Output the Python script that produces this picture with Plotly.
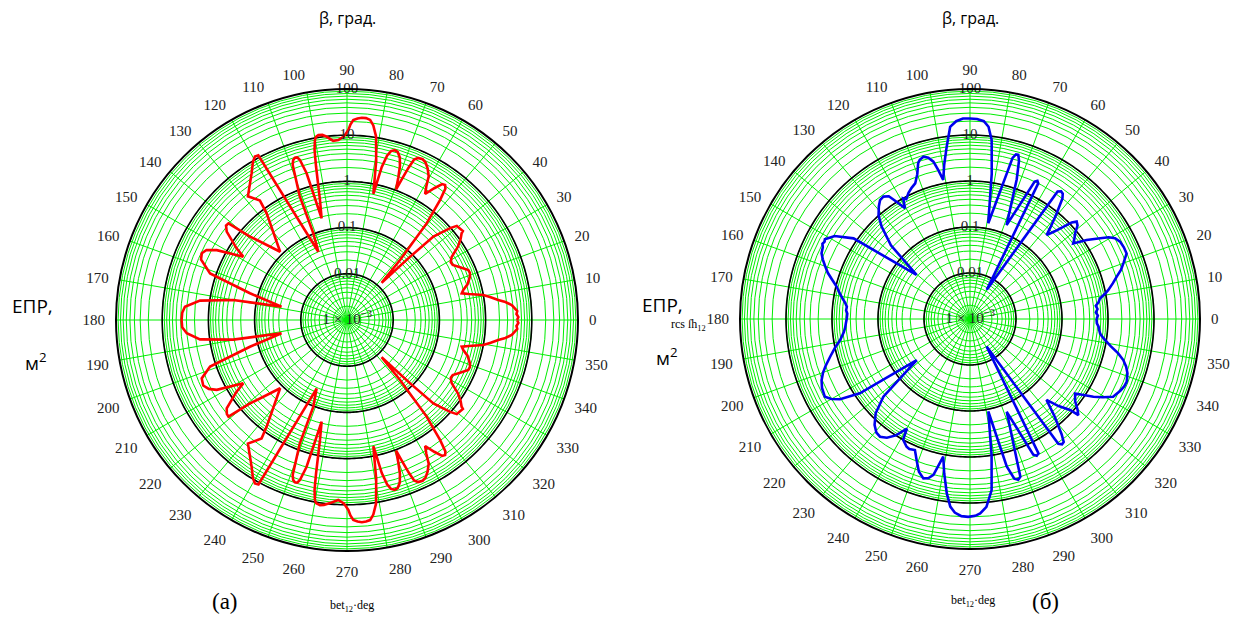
import plotly.graph_objects as go
import numpy as np

# ---------------- data ----------------
# chart (а): angle, deg  /  RCS, m^2
theta_a = [0, 1, 2, 3, 4.6, 5.2, 6.5, 7.5, 9, 10.4, 12, 13.1, 14.5, 16.5, 19.4, 21, 22.4, 25, 27.5, 29.1,
           31, 33.5, 35.5, 37.1, 37.5, 39.5, 40.6, 41.7, 44, 45.1, 47.1, 48.5, 50.5, 52.2, 53.2, 54, 55,
           56.5, 58.2, 59.3, 60.4, 62, 63.5, 64.8, 66.3, 67.3, 68, 68.7, 69.4, 70.2, 71, 72, 73.2, 74.3,
           75.4, 76.3, 77.2, 78.2, 79.6, 81, 82.3, 83.4, 84.6, 85.8, 87, 88.2, 89, 89.6, 91, 92.8, 94.4,
           96.3, 97.6, 98.8, 99.6, 100.1, 100.8, 101.4, 102.7, 104, 105.4, 106.4, 107, 107.8, 108.6, 109.3,
           110.9, 111.2, 112.8, 118.3, 119.4, 120.8, 123, 128.7, 126.1, 127, 134.4, 139.3, 140.8, 142,
           143.7, 147, 148.6, 151.8, 153.5, 155.3, 157.5, 161.2, 164.6, 168.5, 170, 172.5, 175.3, 177.5, 180,
           182.5, 184.7, 187.5, 189.8, 191.5, 195.4, 198.8, 201.9, 204.5, 206.5, 208.2, 211.4, 213, 216.3,
           218, 219.2, 220.7, 225.6, 233, 234.2, 231.3, 237, 239.2, 240.6, 241.7, 246.1, 248.8, 249.1,
           250.7, 251.4, 252.2, 253, 253.6, 254.6, 256, 257.3, 258.6, 259.2, 259.9, 260.4, 261.7, 262.9,
           264.7, 267.2, 269, 270.4, 271, 271.8, 273, 274.2, 275.4, 276.6, 277.7, 279, 280.4, 281.8, 282.8,
           283.7, 284.6, 285.7, 286.8, 288, 289, 289.8, 290.6, 291.3, 292, 292.7, 293.7, 295.2, 296.5, 298,
           299.6, 300.7, 301.8, 303.5, 305, 306, 306.8, 307.8, 309.5, 311.5, 312.9, 314.9, 316, 318.3,
           319.4, 320.5, 322.5, 322.9, 324.5, 326.5, 329, 330.9, 332.5, 335, 337.6, 339, 340.6, 343.5,
           345.5, 346.9, 348, 349.6, 351, 352.5, 353.5, 354.8, 355.4, 357, 358, 359, 360]
rcs_a = [4.79, 5.13, 4.68, 4.90, 4.07, 3.80, 2.82, 2.00, 1.41, 1.00, 0.50, 0.355, 0.398, 0.525, 0.661,
         0.708, 0.692, 0.501, 0.380, 0.372, 0.437, 0.759, 1.05, 1.29, 1.45, 1.38, 1.35, 0.977, 0.398, 0.085,
         0.0126, 0.054, 0.513, 1.95, 3.6, 4.1, 3.9, 2.63, 1.62, 2.3, 3.80, 5.2, 6.46, 7.0, 6.76, 5.8, 3.6,
         1.9, 1.05, 1.9, 3.3, 5.0, 6.3, 6.6, 6.0, 4.6, 2.5, 0.617, 3.16, 10.5, 17.8, 22.9, 24.5, 24.5,
         23.4, 21.4, 17.0, 12.9, 9.33, 7.94, 7.76, 9.77, 11.0, 11.2, 10.5, 9.12, 5.6, 2.45, 0.457, 0.186,
         2.00, 4.07, 4.8, 4.9, 4.5, 3.6, 0.741, 0.105, 0.040, 11.2, 11.5, 9.5, 6.17, 2.69, 1.58, 0.776,
         0.117, 0.589, 2.04, 2.1, 1.70, 0.708, 0.427, 1.58, 2.5, 2.88, 2.63, 1.35, 0.151, 0.028, 0.316,
         1.62, 3.31, 3.72, 3.80,
         3.72, 3.02, 1.62, 0.316, 0.028, 0.151, 1.35, 2.45, 2.63, 2.2, 1.58, 0.427, 0.708, 1.70, 2.00,
         2.04, 0.589, 0.117, 0.776, 1.45, 2.69, 6.17, 9.5, 11.5, 11.0, 0.042, 0.105, 0.741, 3.6, 4.5, 4.9,
         4.8, 4.07, 2.00, 0.186, 0.457, 2.45, 5.6, 9.12, 10.5, 11.2, 10.8, 9.55, 7.94, 9.33, 12.9, 17.0,
         21.4, 23.4, 24.5, 24.0, 22.9, 17.8, 10.5, 3.16, 0.617, 2.5, 4.6, 6.0, 6.6, 6.3, 5.0, 3.3, 1.9,
         1.05, 1.9, 3.6, 5.8, 6.76, 7.0, 6.46, 5.2, 3.80, 2.3, 1.62, 2.63, 3.9, 4.1, 3.6, 1.95, 0.513,
         0.054, 0.0126, 0.085, 0.398, 0.977, 1.35, 1.38, 1.45, 1.29, 1.05, 0.759, 0.437, 0.372, 0.380,
         0.501, 0.692, 0.708, 0.661, 0.525, 0.398, 0.355, 0.50, 1.00, 1.41, 2.00, 2.82, 3.80, 4.07, 4.90,
         4.68, 5.13, 4.79]

# chart (б): angle, deg  /  RCS, m^2
theta_b = [0, 1.5, 3, 4.5, 6, 7.5, 9, 10.5, 11.8, 14, 16.1, 18, 20, 22.7, 25, 27.3, 29.1, 30.5, 31.8, 34.1,
           36.2, 37.5, 39.2, 41, 42.4, 43.5, 44.2, 46, 47.6, 49, 50.5, 52.5, 53.5, 54.5, 55.5, 60.1, 63.3,
           64, 64.8, 68.7, 71.5, 72.8, 73.6, 74.4, 75.2, 79.2, 81.5, 83.1, 84.5, 86, 88, 90, 92, 94, 95.9,
           97.7, 99.5, 100.9, 102, 103.1, 104.5, 106, 107.5, 108.4, 110, 112, 114, 116, 118, 119, 120.4,
           122, 123.5, 125.3, 127.1, 129, 131.5, 133.7, 137, 140.5, 145.3, 148.5, 151.2, 152, 153, 154,
           156.1, 158, 160, 162, 164, 166.4, 168.5, 170.5, 172.5, 174.3, 176, 177.5, 180,
           182, 184, 186, 189.2, 192, 195.1, 198, 200, 202.4, 205, 208.2, 210, 211.7, 214, 217.6, 221.9, 225,
           228, 230.5, 232.6, 235, 237.5, 240.1, 241, 243.6, 245, 247.2, 249.5, 251.5, 253.7, 255.3, 256.8,
           259, 260.5, 262.4, 264, 265.5, 267.5, 269.5, 271.5, 273, 275, 277.2, 279, 281.2, 284, 285.5,
           286.7, 287.7, 291.6, 295, 296, 297, 301.1, 305.3, 306.3, 307.3, 308.5, 311, 313.4, 315.5, 317.7,
           318.4, 320, 322, 324.7, 326.5, 327.8, 329.5, 331.5, 334.5, 336.5, 338.2, 341, 343, 345, 347, 349,
           351.8, 353.5, 355, 356.6, 358, 360]
rcs_b = [0.562, 0.603, 0.550, 0.603, 0.562, 0.661, 0.724, 0.955, 1.17, 1.58, 2.09, 2.82, 3.55, 4.90, 4.90,
         4.68, 4.07, 3.16, 2.14, 1.15, 0.603, 0.724, 0.891, 1.25, 1.38, 1.12, 0.851, 0.447, 0.295, 0.5,
         0.891, 2.00, 2.45, 2.57, 2.3, 0.0054, 2.0, 2.2, 2.0, 0.155, 1.58, 4.0, 5.25, 5.2, 4.2, 0.132,
         1.58, 8.32, 15.8, 20.4, 22.4, 22.9, 22.9, 20.4, 15.8, 6.03, 2.51, 1.20, 2.00, 3.24, 4.17, 4.68,
         4.27, 3.72, 2.24, 1.51, 1.32, 1.12, 0.891, 1.00, 0.617, 1.00, 1.58, 1.82, 1.74, 1.41, 1.00, 0.603,
         0.224, 0.032, 1.20, 2.82, 3.98, 3.80, 3.98, 3.63, 3.39, 2.82, 2.24, 1.78, 1.32, 0.955, 0.794,
         0.661, 0.550, 0.490, 0.501, 0.468, 0.479,
         0.501, 0.525, 0.575, 0.724, 1.00, 1.41, 2.00, 2.51, 3.09, 3.55, 3.80, 3.02, 2.09, 0.776, 0.029,
         0.339, 0.794, 1.26, 1.58, 1.66, 1.41, 1.00, 0.562, 1.00, 1.26, 1.32, 1.23, 2.00, 3.16, 4.07,
         3.80, 3.02, 1.12, 2.51, 6.61, 12.6, 16.6, 19.5, 20.0, 19.1, 17.0, 12.6, 5.62, 1.00, 0.112, 2.0,
         4.0, 4.47, 3.98, 0.148, 1.8, 2.04, 1.9, 0.0050, 2.1, 2.4, 2.3, 1.58, 0.631, 0.263, 0.501, 0.871,
         1.41, 1.12, 0.794, 0.631, 1.00, 1.48, 2.24, 3.47, 4.17, 4.57, 4.68, 4.17, 3.55, 2.82, 2.00, 1.32,
         0.851, 0.708, 0.661, 0.631, 0.575, 0.562]

assert len(theta_a) == len(rcs_a) and len(theta_b) == len(rcs_b)

major_rings = [0.01, 0.1, 1, 10]
ring_labels = ["100", "10", "1", "0.1", "0.01"]
ring_label_r = [100, 10, 1, 0.1, 0.01]
angle_ticks = list(range(0, 360, 10))

# ---------------- geometry / styling ----------------
OFF = 8                      # default page margin of the html body
W, H = 1241 - OFF, 619 - OFF
GREEN = "#00ee00"
SERIF = "Liberation Serif"
SANS = "Open Sans"

minor_vals = []
for e in range(-3, 2):
    for m in range(1, 10):
        minor_vals.append(m * 10.0 ** e)
minor_vals.append(100.0)

fig = go.Figure()
ring_theta = np.linspace(0, 360, 361)


def add_chart(sub, theta, rcs, color):
    for rv in major_rings:
        fig.add_trace(go.Scatterpolar(r=[rv] * len(ring_theta), theta=ring_theta, mode="lines",
                                      line=dict(color="black", width=1.6), hoverinfo="skip",
                                      showlegend=False, subplot=sub))
    fig.add_trace(go.Scatterpolar(r=rcs, theta=theta, mode="lines",
                                  line=dict(color=color, width=2.6), showlegend=False, subplot=sub))
    fig.add_trace(go.Scatterpolar(r=ring_label_r, theta=[90] * len(ring_label_r), mode="text",
                                  text=ring_labels, textposition="middle center", cliponaxis=False,
                                  textfont=dict(family=SERIF, size=15, color="#222"),
                                  showlegend=False, subplot=sub, hoverinfo="skip"))
    fig.add_trace(go.Scatterpolar(r=[0.00101], theta=[0], mode="text",
                                  text=["1 × 10<sup>−3</sup>"], textposition="middle center",
                                  cliponaxis=False,
                                  textfont=dict(family=SERIF, size=15, color="#222"),
                                  showlegend=False, subplot=sub, hoverinfo="skip"))


add_chart("polar", theta_a, rcs_a, "#ff0000")
add_chart("polar2", theta_b, rcs_b, "#0000ee")


def dom(x0, x1, y0, y1):
    # screen pixels -> paper fractions of the figure
    return [(x0 - OFF) / W, (x1 - OFF) / W], [1 - (y1 - OFF) / H, 1 - (y0 - OFF) / H]


def polar_layout(xd, yd):
    return dict(
        domain=dict(x=xd, y=yd),
        bgcolor="white",
        radialaxis=dict(type="log", range=[-3, 2], tickvals=minor_vals, showticklabels=False,
                        ticks="", showline=False, gridcolor=GREEN, gridwidth=1.1, angle=90),
        angularaxis=dict(rotation=0, direction="counterclockwise", tickvals=angle_ticks,
                         ticktext=[str(a) for a in angle_ticks], ticks="outside", ticklen=7,
                         tickcolor="rgba(0,0,0,0)",
                         tickfont=dict(family=SERIF, size=15, color="#222"),
                         gridcolor=GREEN, gridwidth=1.1, showline=True, linecolor="black",
                         linewidth=2),
    )


annotations = []


def ann(text, x, y, size, family, color="black"):
    annotations.append(dict(text=text, x=(x - OFF) / W, y=1 - (y - OFF) / H, xref="paper",
                            yref="paper", showarrow=False, xanchor="center", yanchor="middle",
                            font=dict(family=family, size=size, color=color)))


ann("β, град.", 347, 18, 16, SANS)
ann("β, град.", 970, 18, 16, SANS)
ann("ЕПР,", 33, 306, 19, SANS)
ann("м<sup>2</sup>", 36, 362, 19, SANS)
ann("ЕПР,", 662, 305, 19, SANS)
ann("rcs ſh<sub>12</sub>", 688, 325, 12, SERIF)
ann("м<sup>2</sup>", 667, 357, 19, SANS)
ann("(а)", 225, 601, 23, SERIF)
ann("bet<sub>12</sub>·deg", 352, 606, 12, SERIF)
ann("bet<sub>12</sub>·deg", 973, 601, 12, SERIF)
ann("(б)", 1045, 601, 23, SERIF)

xa, ya = dom(116, 578, 89, 551)
xb, yb = dom(740, 1200, 89, 549)

fig.update_layout(
    width=W, height=H,
    margin=dict(l=0, r=0, t=0, b=0),
    paper_bgcolor="white",
    polar=polar_layout(xa, ya),
    polar2=polar_layout(xb, yb),
    annotations=annotations,
    showlegend=False,
)

fig.write_html("out.html")
